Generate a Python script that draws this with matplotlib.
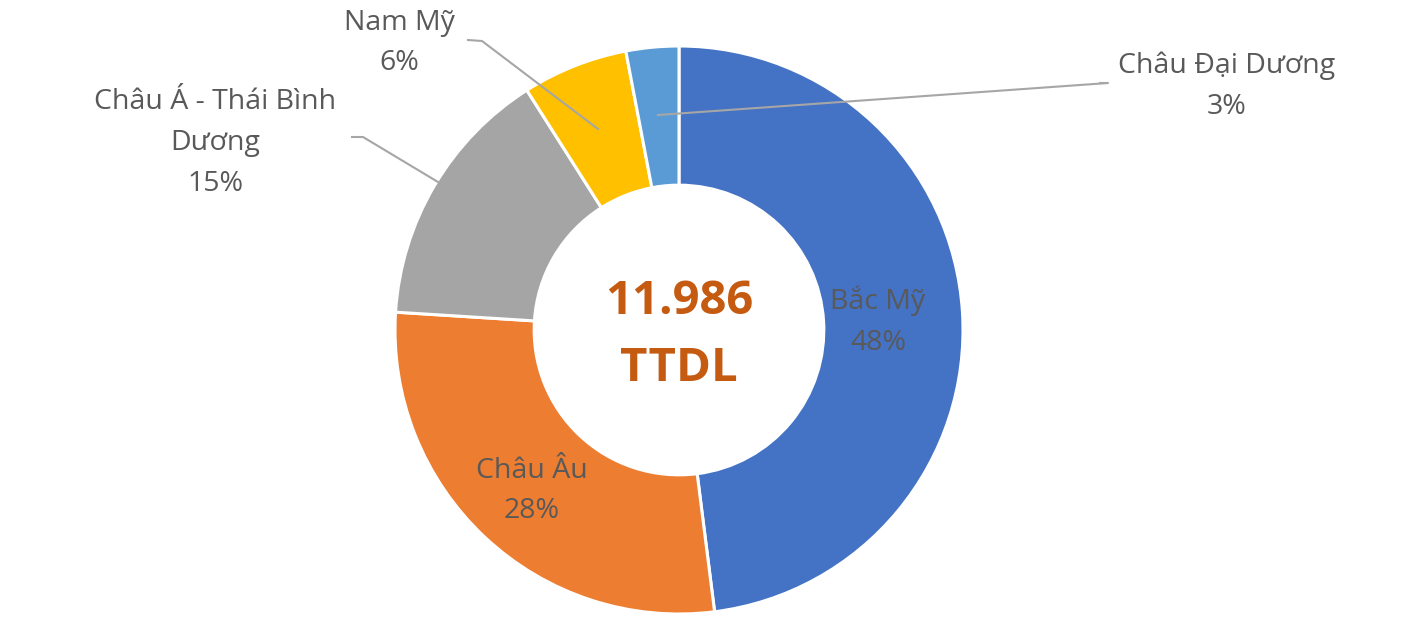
import matplotlib
matplotlib.use("Agg")
import matplotlib.pyplot as plt

plt.rcParams['font.family'] = ['Open Sans', 'DejaVu Sans']

regions = ['Bắc Mỹ', 'Châu Âu', 'Châu Á - Thái Bình\nDương', 'Nam Mỹ', 'Châu Đại Dương']
shares = [48, 28, 15, 6, 3]
colors = ['#4472C4', '#ED7D31', '#A5A5A5', '#FFC000', '#5B9BD5']
total_label = '11.986\nTTDL'

W, H = 1420, 639
fig = plt.figure(figsize=(W / 100, H / 100), dpi=100)
ax = fig.add_axes([0, 0, 1, 1])
ax.set_xlim(0, W)
ax.set_ylim(0, H)
ax.set_aspect('equal')
ax.axis('off')

cx, cy, R = 679, H - 330, 284
wedges, _ = ax.pie(shares, colors=colors, startangle=90, counterclock=False,
                   center=(cx, cy), radius=R,
                   wedgeprops=dict(width=R * 0.49, edgecolor='white', linewidth=2.2))
ax.set_xlim(0, W)
ax.set_ylim(0, H)

txt = '#595959'
fs = 20.5
ls = 1.6
lbl = [f'{r}\n{s}%' for r, s in zip(regions, shares)]
# inside labels
ax.text(878, H - 321, lbl[0], ha='center', va='center', fontsize=fs, color=txt, linespacing=ls)
ax.text(532, H - 491, lbl[1], ha='center', va='center', fontsize=fs, color=txt, linespacing=ls)
# outside labels
ax.text(215, H - 143, lbl[2], ha='center', va='center', fontsize=fs, color=txt, linespacing=ls)
ax.text(399, H - 43, lbl[3], ha='center', va='center', fontsize=fs, color=txt, linespacing=ls)
ax.text(1227, H - 86, lbl[4], ha='center', va='center', fontsize=fs, color=txt, linespacing=ls)

lc = '#A6A6A6'
ax.plot([352, 363, 438], [H - 137, H - 137, H - 182], color=lc, lw=1.5)
ax.plot([468, 482, 598], [H - 40, H - 41, H - 129], color=lc, lw=1.5)
ax.plot([658, 1108, 1100], [H - 115, H - 83, H - 83], color=lc, lw=1.5)

ax.text(cx, H - 335, total_label, ha='center', va='center', fontsize=34, fontweight='bold',
        color='#C55A11', linespacing=1.55)

fig.savefig('out.png', dpi=100)
